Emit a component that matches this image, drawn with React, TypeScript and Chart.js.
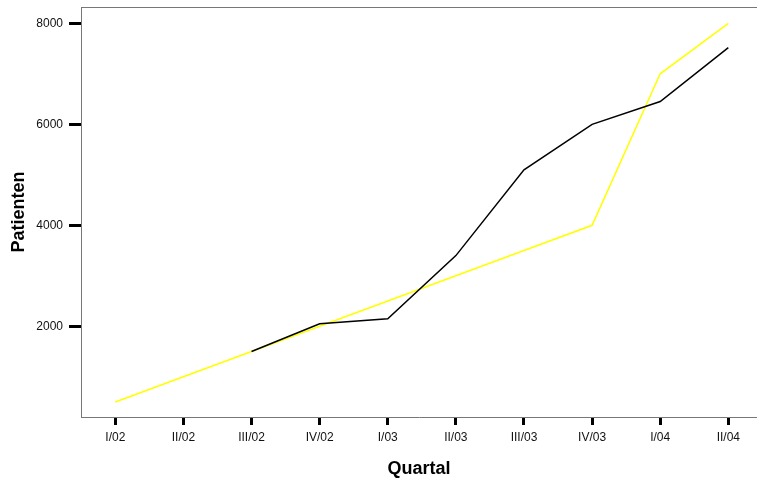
import React, { useEffect, useRef } from "react";
import { Chart, registerables } from "chart.js";

Chart.register(...registerables);

const quarters = ["I/02", "II/02", "III/02", "IV/02", "I/03", "II/03", "III/03", "IV/03", "I/04", "II/04"];
const yellowSeries = [500, 1000, 1500, 2000, 2500, 3000, 3500, 4000, 7000, 8000];
const blackSeries: (number | null)[] = [null, null, 1500, 2050, 2150, 3400, 5100, 6000, 6450, 7520];
const yTickValues = [2000, 4000, 6000, 8000];
const xTitle = "Quartal";
const yTitle = "Patienten";

const FONT = "'Liberation Sans', Arial, Helvetica, sans-serif";

const topBorder = {
  id: "topBorder",
  afterDraw(chart: any) {
    const { ctx, chartArea } = chart;
    ctx.save();
    ctx.strokeStyle = "#777777";
    ctx.lineWidth = 1;
    ctx.beginPath();
    ctx.moveTo(chartArea.left, Math.round(chartArea.top) + 0.5);
    ctx.lineTo(chartArea.right, Math.round(chartArea.top) + 0.5);
    ctx.stroke();
    ctx.restore();
  },
};

export default function App() {
  const ref = useRef<HTMLCanvasElement | null>(null);

  useEffect(() => {
    if (!ref.current) return;
    const chart = new Chart(ref.current, {
      type: "line",
      data: {
        datasets: [
          {
            label: "Ist",
            data: blackSeries.map((v, i) => ({ x: i, y: v })),
            borderColor: "#000000",
            borderWidth: 1.5,
            pointRadius: 0,
            fill: false,
            tension: 0,
          },
          {
            label: "Plan",
            data: yellowSeries.map((v, i) => ({ x: i, y: v })),
            borderColor: "#ffff00",
            borderWidth: 1.5,
            pointRadius: 0,
            fill: false,
            tension: 0,
          },
        ],
      },
      plugins: [topBorder],
      options: {
        animation: false,
        responsive: false,
        devicePixelRatio: 1,
        layout: { padding: { top: 7, left: 0, right: 0, bottom: 0 } },
        plugins: { legend: { display: false }, tooltip: { enabled: false } },
        scales: {
          x: {
            type: "linear",
            min: -0.5036,
            max: 9.421,
            afterBuildTicks: (scale: any) => {
              scale.ticks = quarters.map((_, i) => ({ value: i }));
            },
            afterFit: (scale: any) => {
              scale.height = 64;
              scale.paddingLeft = 0;
              scale.paddingRight = 0;
            },
            ticks: {
              callback: (v: any) => quarters[Math.round(Number(v))] ?? "",
              color: "#111111",
              font: { family: FONT, size: 12 },
              padding: 5,
              maxRotation: 0,
              autoSkip: false,
            },
            grid: {
              drawOnChartArea: false,
              drawTicks: true,
              tickLength: 8,
              tickWidth: 3,
              tickColor: "#000000",
            },
            border: { display: true, color: "#777777", width: 1 },
            title: {
              display: true,
              text: xTitle,
              color: "#000000",
              font: { family: FONT, size: 18, weight: "bold" },
              padding: { top: 0, bottom: 1 },
            },
          },
          y: {
            type: "linear",
            min: 204,
            max: 8323,
            afterBuildTicks: (scale: any) => {
              scale.ticks = yTickValues.map((v) => ({ value: v }));
            },
            afterFit: (scale: any) => {
              scale.width = 81;
              scale.paddingTop = 0;
              scale.paddingBottom = 0;
            },
            ticks: {
              callback: (v: any) => String(v),
              color: "#111111",
              font: { family: FONT, size: 12 },
              padding: 6,
            },
            grid: {
              drawOnChartArea: false,
              drawTicks: true,
              tickLength: 12,
              tickWidth: 3,
              tickColor: "#000000",
            },
            border: { display: true, color: "#777777", width: 1 },
            title: {
              display: true,
              text: yTitle,
              color: "#000000",
              font: { family: FONT, size: 18, weight: "bold" },
              padding: { top: 8.6, bottom: 0 },
            },
          },
        },
      } as any,
    });
    return () => chart.destroy();
  }, []);

  return (
    <div style={{ position: "absolute", left: 0, top: 0, width: 757, height: 481, background: "#ffffff" }}>
      <canvas ref={ref} width={757} height={481} style={{ display: "block", width: 757, height: 481 }} />
    </div>
  );
}
